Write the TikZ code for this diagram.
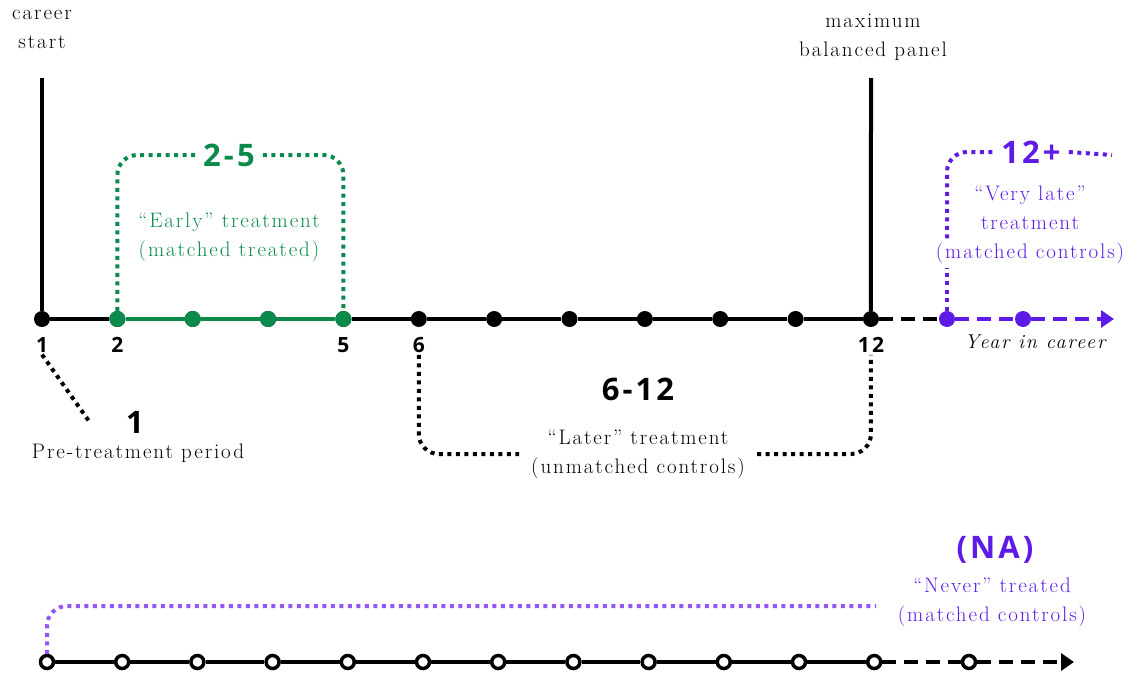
\documentclass[tikz,border=0pt]{standalone}
\usepackage{fontspec}
\setmainfont{Latin Modern Roman}[LetterSpace=9]
\newfontfamily\numfont{Open Sans}[LetterSpace=10]
\usepackage{xcolor}
\usetikzlibrary{arrows.meta,positioning,calc}
\definecolor{earlygreen}{HTML}{0B8A4B}
\definecolor{latepurple}{HTML}{5E1AE6}
\definecolor{neverpurple}{HTML}{9457F5}
\tikzset {
    dot/.style={circle, fill=black, minimum size=16pt, inner sep=0pt},
    hollow/.style={circle, draw=black, fill=white, line width=3.5pt,
        minimum size=13pt, inner sep=0pt},
    yearlabel/.style={font=\numfont\bfseries\fontsize{21}{22}\selectfont,
        inner sep=2pt},
    biglabel/.style={font=\numfont\bfseries\fontsize{31}{32}\selectfont,
        inner sep=8pt},
    note/.style={font=\fontsize{21}{29}\selectfont, align=center, inner sep=2pt},
    axis/.style={line width=4pt},
    gap/.style={line width=4pt, dash pattern=on 14pt off 8pt},
    bracket/.style={line width=4pt, dash pattern=on 4pt off 4.5pt,
        rounded corners=20pt},
    node distance=8pt,
    >={Triangle[length=13pt,width=17pt]}
}

\begin{document}
\begin{tikzpicture}[x=1pt, y=-1pt]
    \useasboundingbox (0,0) rectangle (1133,675);

    % upper time line
    \foreach \i in {1,...,12}
        \node[dot] (t\i) at ({42+75.36*(\i-1)},319) {};
    \foreach \i in {2,...,5}
        \node[dot, fill=earlygreen] (t\i) at ({42+75.36*(\i-1)},319) {};
    \node[dot, fill=latepurple] (t13) at (947,319) {};
    \node[dot, fill=latepurple] (t14) at (1023,319) {};
    \coordinate (tend) at (1114,319);

    \draw[axis] (t1) -- (t2);
    \draw[axis, earlygreen] (t2) -- (t3) -- (t4) -- (t5);
    \draw[axis] (t5) -- (t6) -- (t7) -- (t8) -- (t9) -- (t10) -- (t11) -- (t12);
    \draw[gap] (t12) -- (t13);
    \draw[gap, latepurple] (t13) -- (t14);
    \draw[gap, latepurple, ->] (t14) -- (tend);

    \node[yearlabel, below=of t1] (l1) {1};
    \node[yearlabel, below=of t2] (l2) {2};
    \node[yearlabel, below=of t5] (l5) {5};
    \node[yearlabel, below=of t6] (l6) {6};
    \node[yearlabel, below=of t12] (l12) {12};
    \node[note, font=\itshape\fontsize{20}{29}\selectfont] (axisname)
        at (1035,342) {Year in career};

    % panel limits
    \node[note] (careerstart) at (42,29) {career\\start};
    \node[note] (maxpanel) at (873,37) {maximum\\balanced panel};
    \coordinate (top1) at (42,78);
    \coordinate (top12) at (871,78);
    \draw[axis] (t1) -- (top1);
    \draw[axis] (t12) -- (top12);

    % early treatment
    \node[biglabel, earlygreen] (early) at (229,155) {2-5};
    \node[note, earlygreen] (earlytext) at (229,237)
        {“Early” treatment\\(matched treated)};
    \draw[bracket, earlygreen] (t2) |- (early.west);
    \draw[bracket, earlygreen] (early.east) -| (t5);

    % pre-treatment
    \node[biglabel, inner sep=2pt] (pre) at (135,422) {1};
    \node[note] (pretext) at (138,453) {Pre-treatment period};
    \coordinate (preend) at (91,424);
    \draw[bracket] (l1.south) -- (preend);

    % later treatment
    \node[biglabel, inner sep=2pt] (later) at (638,389) {6-12};
    \node[note, inner sep=12pt] (latertext) at (638,454)
        {“Later” treatment\\(unmatched controls)};
    \draw[bracket] (l6.south) |- (latertext.west);
    \draw[bracket] (latertext.east) -| (l12.south);

    % very late treatment
    \node[biglabel, latepurple] (verylate) at (1031,152) {12+};
    \node[note, latepurple] (verylatetext) at (1030,208)
        {“Very late”\\treatment};
    \node[note, latepurple, inner sep=4pt] (verylatectrl) at (1030,253)
        {(matched controls)};
    \coordinate (vlend) at (1112,155);
    \draw[bracket, latepurple] (t13) -- (verylatectrl.south -| t13);
    \draw[bracket, latepurple] (verylatectrl.north -| t13) |- (verylate.west);
    \draw[bracket, latepurple] (verylate.east) -- (vlend);

    % lower time line
    \foreach \i in {1,...,12}
        \node[hollow] (b\i) at ({47+75.2*(\i-1)},662) {};
    \node[hollow] (b13) at (969,662) {};
    \coordinate (bend) at (1074,662);
    \foreach \i [count=\j from 2] in {1,...,11}
        \draw[axis] (b\i) -- (b\j);
    \draw[gap] (b12) -- (b13);
    \draw[gap, ->] (b13) -- (bend);

    % never treated
    \node[biglabel, latepurple, inner sep=2pt] (never) at (995,550) {(NA)};
    \node[note, latepurple] (nevertext) at (992,602)
        {“Never” treated\\(matched controls)};
    \coordinate (naend) at (876,606);
    \draw[bracket, neverpurple] (b1) |- (naend);

\end{tikzpicture}
\end{document}
